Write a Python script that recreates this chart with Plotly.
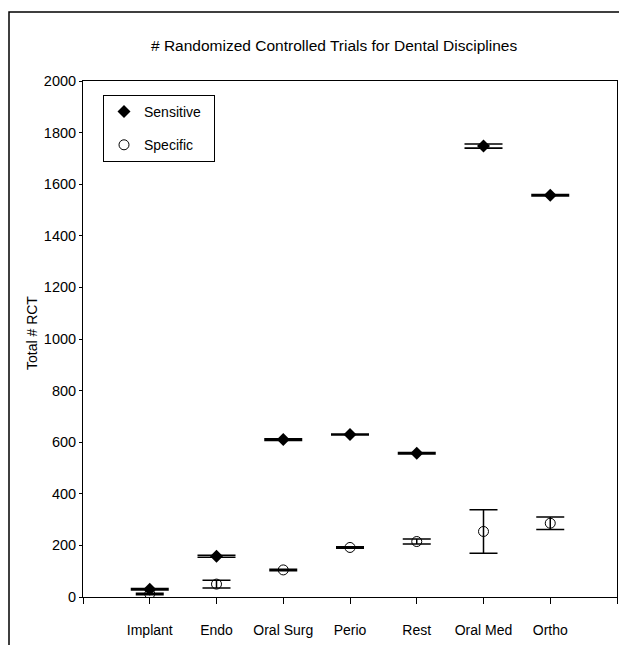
import plotly.graph_objects as go

categories = ["Implant", "Endo", "Oral Surg", "Perio", "Rest", "Oral Med", "Ortho"]
sensitive = [30, 158, 610, 630, 557, 1748, 1557]
sensitive_err = [3, 4, 3, 2, 3, 8, 3]
specific = [12, 50, 105, 192, 215, 254, 286]
specific_err = [3, 15, 3, 3, 10, 84, 24]
y_ticks = list(range(0, 2001, 200))

positions = list(range(1, len(categories) + 1))
FONT = "Arial, 'Liberation Sans', sans-serif"

# page body adds an 8px offset; work in reference pixels minus that offset
OFF = 8
W, H = 627 - OFF, 645 - OFF
L, T = 83 - OFF, 81 - OFF
R = W - (617 - OFF)
B = H - (597 - OFF)
pw, ph = W - L - R, H - T - B


def px(xr):
    return (xr - OFF - L) / pw


def py(yr):
    return (H - B - (yr - OFF)) / ph


fig = go.Figure()
fig.add_trace(go.Scatter(
    x=positions, y=sensitive, mode="markers", name="Sensitive\u00a0\u00a0",
    legendgroup="a",
    marker=dict(symbol="diamond", size=10, color="black"),
    error_y=dict(type="data", array=sensitive_err, visible=True,
                 color="black", thickness=1.6, width=19),
))
fig.add_trace(go.Scatter(
    x=positions, y=specific, mode="markers", name="Specific",
    legendgroup="b",
    marker=dict(symbol="circle-open", size=10, color="black",
                line=dict(width=1, color="black")),
    error_y=dict(type="data", array=specific_err, visible=True,
                 color="black", thickness=1.5, width=14),
))

fig.update_layout(
    width=W, height=H,
    margin=dict(l=L, r=R, t=T, b=B, autoexpand=False),
    paper_bgcolor="white", plot_bgcolor="white",
    font=dict(family=FONT, size=14, color="black"),
    showlegend=True,
    legend=dict(x=px(103), y=py(95), xanchor="left", yanchor="top",
                bordercolor="black", borderwidth=1, bgcolor="white",
                traceorder="grouped", tracegroupgap=12,
                font=dict(family=FONT, size=14)),
    xaxis=dict(range=[0, len(categories) + 1],
               tickvals=[0] + positions + [len(categories) + 1],
               ticktext=[""] + categories + [""],
               ticks="outside", ticklen=6, tickcolor="black",
               ticklabelstandoff=14, automargin=False,
               showline=True, linecolor="black", linewidth=1, mirror=True,
               showgrid=False, zeroline=False,
               tickfont=dict(family=FONT, size=14)),
    yaxis=dict(range=[0, 2000], tickvals=y_ticks,
               ticks="outside", ticklen=3, tickcolor="black",
               automargin=False,
               showline=True, linecolor="black", linewidth=1, mirror=True,
               showgrid=False, zeroline=False,
               tickfont=dict(family=FONT, size=14.5)),
)

fig.add_annotation(
    text="# Randomized Controlled Trials for Dental Disciplines",
    xref="paper", yref="paper",
    x=px(334), y=py(45),
    xanchor="center", yanchor="middle", showarrow=False,
    font=dict(family=FONT, size=15.5, color="black"),
)

fig.add_annotation(
    text="Total # RCT",
    xref="paper", yref="paper",
    x=px(32), y=py(333), textangle=-90,
    xanchor="center", yanchor="middle", showarrow=False,
    font=dict(family=FONT, size=14, color="black"),
)

# outer frame
fig.add_shape(type="rect", xref="paper", yref="paper",
              x0=px(9), x1=px(660), y0=py(680), y1=py(12),
              line=dict(color="black", width=1.5), layer="below")

fig.write_html("out.html")
